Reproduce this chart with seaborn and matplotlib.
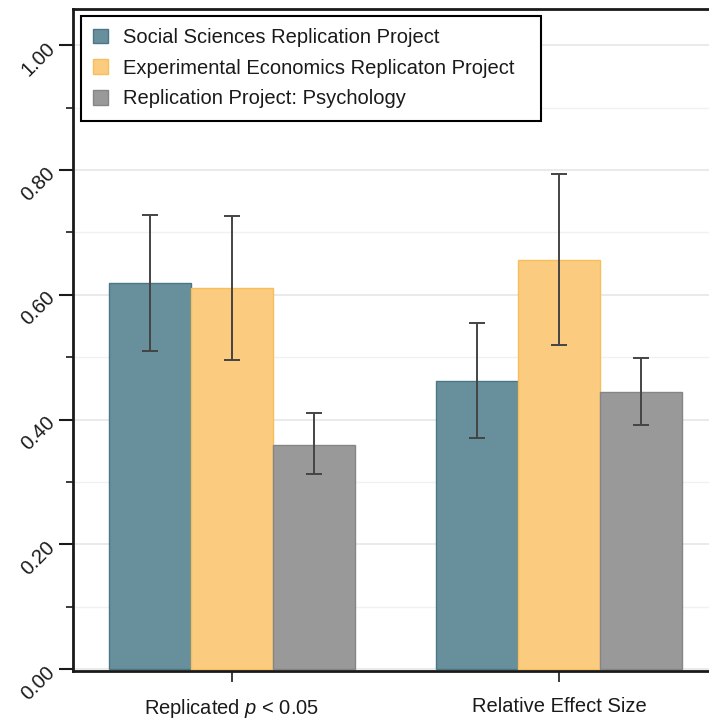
import matplotlib
matplotlib.use("Agg")
import matplotlib.pyplot as plt
import seaborn as sns
import pandas as pd
import numpy as np
from matplotlib.ticker import MultipleLocator

categories = ["Replicated $\\it{p}$ < 0.05", "Relative Effect Size"]
projects = ["Social Sciences Replication Project",
            "Experimental Economics Replicaton Project",
            "Replication Project: Psychology"]
ss_vals = [0.619, 0.462]
ee_vals = [0.611, 0.656]
rp_vals = [0.360, 0.444]
ss_lo = [0.510, 0.370]
ss_hi = [0.728, 0.555]
ee_lo = [0.496, 0.520]
ee_hi = [0.726, 0.794]
rp_lo = [0.312, 0.391]
rp_hi = [0.410, 0.499]
ytick_labels = ["0.00", "0.20", "0.40", "0.60", "0.80", "1.00"]

fill_colors = ["#688f9c", "#fbcc80", "#999999"]
edge_colors = ["#4c7686", "#f6bf5c", "#858585"]

sns.set_theme(style="white")
plt.rcParams["font.family"] = ["Liberation Sans", "DejaVu Sans"]
plt.rcParams["mathtext.fontset"] = "custom"
plt.rcParams["mathtext.rm"] = "Liberation Sans"
plt.rcParams["mathtext.it"] = "Liberation Sans:italic"
plt.rcParams["text.color"] = "#1a1a1a"
plt.rcParams["xtick.color"] = "#1a1a1a"
plt.rcParams["ytick.color"] = "#1a1a1a"
plt.rcParams["xtick.labelcolor"] = "#1a1a1a"
plt.rcParams["ytick.labelcolor"] = "#1a1a1a"

rows = []
vals = [ss_vals, ee_vals, rp_vals]
for p, v in zip(projects, vals):
    for c, y in zip(categories, v):
        rows.append({"category": c, "project": p, "value": y})
df = pd.DataFrame(rows)

fig = plt.figure(figsize=(7.09, 7.24), dpi=100)
ax = fig.add_axes([73/709, 1-671/724, 1-73/709, (671-9)/724])

sns.barplot(data=df, x="category", y="value", hue="project", order=categories,
            hue_order=projects, palette=fill_colors, errorbar=None, width=0.75,
            saturation=1, ax=ax, legend=True)

los = [ss_lo, ee_lo, rp_lo]
his = [ss_hi, ee_hi, rp_hi]
bar_containers = list(ax.containers)
for i, cont in enumerate(bar_containers):
    xs = []
    for bar in cont.patches:
        bar.set_edgecolor(edge_colors[i])
        bar.set_linewidth(1.0)
        xs.append(bar.get_x() + bar.get_width() / 2)
    xs = np.array(xs)
    v = np.array(vals[i])
    lo = np.array(los[i])
    hi = np.array(his[i])
    ax.errorbar(xs, v, yerr=[v - lo, hi - v], fmt="none", ecolor="#444444",
                elinewidth=1.4, capsize=6, capthick=1.4, zorder=5)

ax.set_xlim(-0.486, 1.459)
ax.set_ylim(-0.003, 1.058)
ax.yaxis.set_major_locator(MultipleLocator(0.2))
ax.yaxis.set_minor_locator(MultipleLocator(0.1))
ax.set_yticks([0, 0.2, 0.4, 0.6, 0.8, 1.0])
ax.set_yticklabels(ytick_labels, rotation=45, fontsize=14.5, va="center", ha="right",
                   rotation_mode="anchor")
ax.tick_params(axis="y", which="major", direction="out", length=10, width=1.5,
               left=True, pad=5)
ax.tick_params(axis="y", which="minor", direction="out", length=5, width=1.2,
               left=True)
ax.tick_params(axis="x", direction="out", length=8, width=1.2,
               bottom=True, labelsize=14.5, pad=11)
ax.grid(True, which="major", axis="y", color="#e6e6e6", linewidth=1.2, zorder=0)
ax.grid(True, which="minor", axis="y", color="#f1f1f1", linewidth=1.0, zorder=0)
ax.set_axisbelow(True)
ax.set_xlabel("")
ax.set_ylabel("")

for side in ["left", "bottom", "top"]:
    ax.spines[side].set_visible(True)
    ax.spines[side].set_color("#1a1a1a")
    ax.spines[side].set_linewidth(2.0)
ax.spines["right"].set_visible(False)

handles, labels = ax.get_legend_handles_labels()
for h, ec in zip(handles, edge_colors):
    h.set_edgecolor(ec)
leg_x0, leg_x1 = 81/709, 541/709
leg_top = 1 - 16/724
leg = ax.legend(handles, labels, loc="upper left",
                bbox_to_anchor=(leg_x0, leg_top - 0.2, leg_x1 - leg_x0, 0.2),
                bbox_transform=fig.transFigure, mode="expand", fontsize=14.5,
                frameon=True, fancybox=False, edgecolor="black", framealpha=1,
                handlelength=0.75, handleheight=0.75, handletextpad=0.75,
                borderpad=0.6, labelspacing=0.58, borderaxespad=0)
leg.get_frame().set_linewidth(1.5)

fig.savefig("out.png", dpi=100)
